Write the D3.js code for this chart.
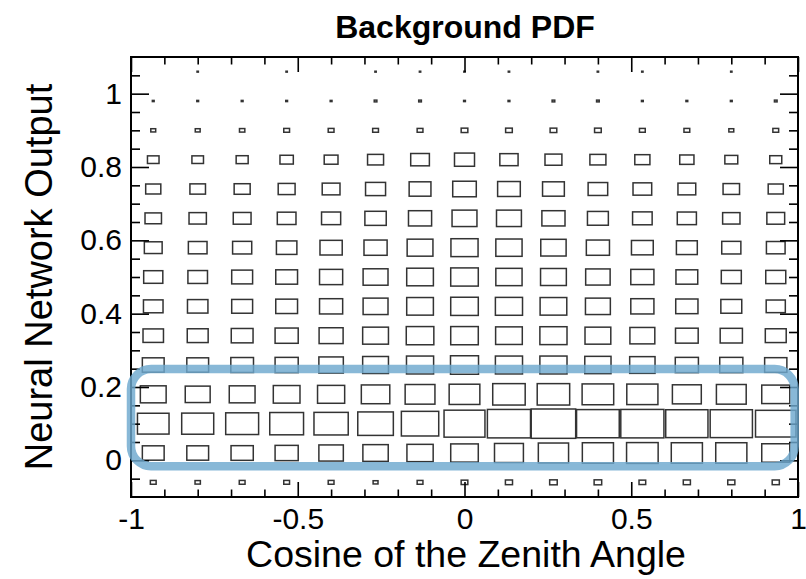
<!DOCTYPE html>
<html>
<head>
<meta charset="utf-8">
<script src="https://cdn.jsdelivr.net/npm/d3@7/dist/d3.min.js"></script>
<style>
  html, body { margin: 0; padding: 0; background: #fff; }
  svg { display: block; }
  text { font-family: "Liberation Sans", Arial, Helvetica, sans-serif; fill: #000; }
</style>
</head>
<body>
<svg id="chart" width="806" height="579"></svg>
<script>
// ---------------- data ----------------
const chartTitle = "Background PDF";
const xTitle = "Cosine of the Zenith Angle";
const yTitle = "Neural Network Output";

// bin centres (15 x 15 histogram)
const xBinCenters = [-0.9333, -0.8, -0.6667, -0.5333, -0.4, -0.2667, -0.1333, 0, 0.1333, 0.2667, 0.4, 0.5333, 0.6667, 0.8, 0.9333];
const yBinCenters = [1.06, 0.98, 0.90, 0.82, 0.74, 0.66, 0.58, 0.50, 0.42, 0.34, 0.26, 0.18, 0.10, 0.02, -0.06];
const xBinWidth = 2 / 15;
const yBinWidth = 0.08;

// bin contents (relative, max = 100), one row per y bin, top to bottom
const binContent = [
  [0, 3, 0, 3, 0, 3, 3, 3, 3, 0, 3, 3, 0, 3, 0],
  [4, 4, 4, 4, 4, 6, 6, 4, 4, 6, 6, 4, 4, 4, 6],
  [11, 11, 12, 13, 13, 13, 13, 15, 15, 15, 15, 13, 13, 11, 13],
  [26, 26, 27, 30, 31, 36, 42, 45, 41, 38, 36, 34, 32, 29, 27],
  [34, 35, 36, 38, 40, 45, 49, 53, 51, 49, 44, 42, 40, 37, 34],
  [37, 39, 40, 42, 43, 48, 52, 56, 56, 52, 47, 44, 43, 39, 40],
  [40, 42, 43, 46, 50, 52, 58, 61, 59, 57, 52, 49, 47, 43, 42],
  [43, 44, 47, 49, 52, 56, 60, 62, 59, 58, 55, 52, 49, 45, 45],
  [44, 46, 47, 49, 52, 56, 60, 62, 61, 60, 56, 52, 50, 47, 43],
  [46, 47, 49, 52, 54, 58, 62, 62, 60, 61, 58, 56, 51, 50, 47],
  [49, 49, 51, 52, 55, 58, 61, 63, 61, 61, 59, 57, 52, 52, 50],
  [58, 56, 58, 60, 61, 64, 67, 69, 73, 73, 71, 70, 65, 67, 63],
  [71, 72, 74, 76, 77, 80, 84, 92, 97, 100, 96, 97, 95, 95, 91],
  [49, 49, 50, 52, 55, 57, 59, 62, 65, 68, 70, 71, 70, 70, 63],
  [13, 12, 13, 13, 13, 11, 13, 15, 16, 17, 17, 15, 16, 16, 16]
];

// axes
const xDomain = [-1, 1];
const yDomain = [-0.1, 1.1];
const xMajorTicks = [-1, -0.5, 0, 0.5, 1];
const xTickLabels = ["-1", "-0.5", "0", "0.5", "1"];
const xMinorTicks = [-0.9, -0.8, -0.7, -0.6, -0.4, -0.3, -0.2, -0.1, 0.1, 0.2, 0.3, 0.4, 0.6, 0.7, 0.8, 0.9];
const yMajorTicks = [0, 0.2, 0.4, 0.6, 0.8, 1];
const yTickLabels = ["0", "0.2", "0.4", "0.6", "0.8", "1"];
const yMinorTicks = [-0.05, 0.05, 0.1, 0.15, 0.25, 0.3, 0.35, 0.45, 0.5, 0.55, 0.65, 0.7, 0.75, 0.85, 0.9, 0.95, 1.05];

// highlighted region (annotation) in data units
const highlightX = [-1, 0.99];
const highlightY = [-0.016, 0.249];

// ---------------- drawing ----------------
const svg = d3.select("#chart");
const plot = { left: 131, right: 798, top: 57, bottom: 497 };

const x = d3.scaleLinear().domain(xDomain).range([plot.left, plot.right]);
const y = d3.scaleLinear().domain(yDomain).range([plot.bottom, plot.top]);
const size = d3.scaleLinear().domain([0, 100]).range([0, 1]).clamp(true);

// boxes
const cells = [];
binContent.forEach((row, j) => row.forEach((v, i) => {
  if (v > 0) cells.push({ xc: xBinCenters[i], yc: yBinCenters[j], v });
}));

const cellW = d => (x(d.xc + xBinWidth / 2) - x(d.xc - xBinWidth / 2)) * size(d.v);
const cellH = d => (y(d.yc - yBinWidth / 2) - y(d.yc + yBinWidth / 2)) * size(d.v);

svg.append("g").attr("class", "boxes")
  .selectAll("rect").data(cells).join("rect")
  .attr("x", d => x(d.xc) - cellW(d) / 2)
  .attr("y", d => y(d.yc) - cellH(d) / 2)
  .attr("width", cellW)
  .attr("height", cellH)
  .attr("fill", "none")
  .attr("stroke", "#333")
  .attr("stroke-width", 1.5);

// axes helper
function styleAxis(g) {
  g.select(".domain").remove();
  g.selectAll(".tick line").attr("stroke", "#000").attr("stroke-width", 1.6);
  g.selectAll(".tick text").attr("font-size", 30).attr("fill", "#000")
    .attr("font-family", '"Liberation Sans", Arial, Helvetica, sans-serif');
}

// bottom
svg.append("g").attr("transform", `translate(0,${plot.bottom})`)
  .call(d3.axisBottom(x).tickValues(xMajorTicks).tickSize(-15).tickPadding(11)
    .tickFormat((d, i) => xTickLabels[i]))
  .call(styleAxis);
svg.append("g").attr("transform", `translate(0,${plot.bottom})`)
  .call(d3.axisBottom(x).tickValues(xMinorTicks).tickSize(-7.5).tickFormat(""))
  .call(styleAxis);
// top
svg.append("g").attr("transform", `translate(0,${plot.top})`)
  .call(d3.axisTop(x).tickValues(xMajorTicks).tickSize(-15).tickFormat(""))
  .call(styleAxis);
svg.append("g").attr("transform", `translate(0,${plot.top})`)
  .call(d3.axisTop(x).tickValues(xMinorTicks).tickSize(-7.5).tickFormat(""))
  .call(styleAxis);
// left
svg.append("g").attr("transform", `translate(${plot.left},0)`)
  .call(d3.axisLeft(y).tickValues(yMajorTicks).tickSize(-18).tickPadding(9)
    .tickFormat((d, i) => yTickLabels[i]))
  .call(styleAxis);
svg.append("g").attr("transform", `translate(${plot.left},0)`)
  .call(d3.axisLeft(y).tickValues(yMinorTicks).tickSize(-9).tickFormat(""))
  .call(styleAxis);
// right
svg.append("g").attr("transform", `translate(${plot.right},0)`)
  .call(d3.axisRight(y).tickValues(yMajorTicks).tickSize(-18).tickFormat(""))
  .call(styleAxis);
svg.append("g").attr("transform", `translate(${plot.right},0)`)
  .call(d3.axisRight(y).tickValues(yMinorTicks).tickSize(-9).tickFormat(""))
  .call(styleAxis);

// frame
svg.append("rect")
  .attr("x", plot.left).attr("y", plot.top)
  .attr("width", plot.right - plot.left).attr("height", plot.bottom - plot.top)
  .attr("fill", "none").attr("stroke", "#000").attr("stroke-width", 2);

// highlight annotation
svg.append("rect")
  .attr("x", x(highlightX[0])).attr("y", y(highlightY[1]))
  .attr("width", x(highlightX[1]) - x(highlightX[0]))
  .attr("height", y(highlightY[0]) - y(highlightY[1]))
  .attr("rx", 20).attr("ry", 20)
  .attr("fill", "none")
  .attr("stroke", "rgb(110,168,206)")
  .attr("stroke-opacity", 0.82)
  .attr("stroke-width", 8.5);

// titles
svg.append("text")
  .attr("x", 465).attr("y", 38)
  .attr("text-anchor", "middle")
  .attr("font-size", 32).attr("font-weight", "bold")
  .text(chartTitle);

svg.append("text")
  .attr("x", 466).attr("y", 567)
  .attr("text-anchor", "middle")
  .attr("font-size", 37.5)
  .text(xTitle);

svg.append("text")
  .attr("transform", "translate(52,277) rotate(-90)")
  .attr("text-anchor", "middle")
  .attr("font-size", 38)
  .text(yTitle);
</script>
</body>
</html>
